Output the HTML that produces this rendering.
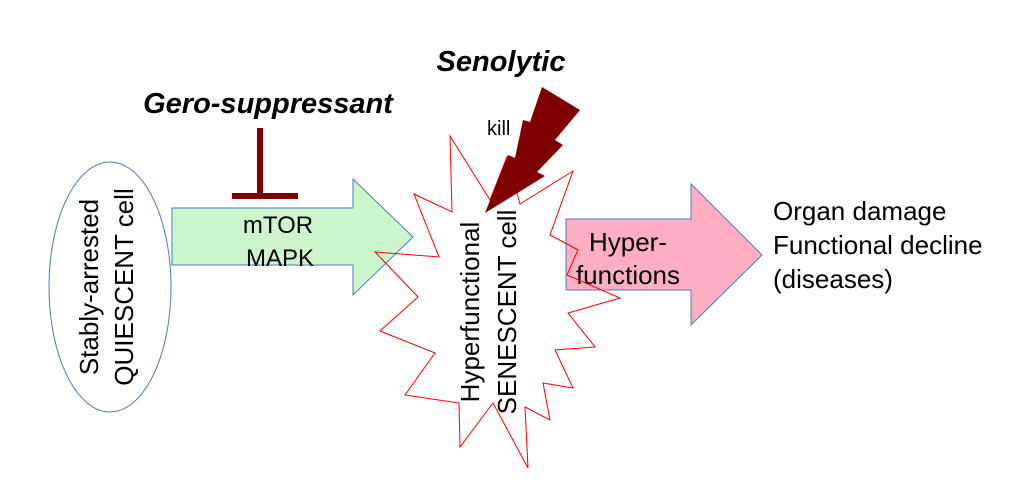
<!DOCTYPE html>
<html><head><style>body{margin:0;background:#fff}svg{display:block}</style></head><body>
<svg width="1020" height="488" xmlns="http://www.w3.org/2000/svg" font-family="Liberation Sans, sans-serif">
<ellipse cx="110" cy="287" rx="61" ry="125" fill="#fff" stroke="#4a7ebb" stroke-width="1"/>
<text transform="translate(98,287) rotate(-90)" text-anchor="middle" font-size="26">Stably-arrested</text>
<text transform="translate(133,287) rotate(-90)" text-anchor="middle" font-size="26">QUIESCENT cell</text>
<polygon points="172,208 353,208 353,179 413,237 353,295 353,265 172,265" fill="#ccf5cc" stroke="#4a7ebb"/>
<text x="278" y="233" text-anchor="middle" font-size="24">mTOR</text>
<text x="280" y="266" text-anchor="middle" font-size="24">MAPK</text>
<line x1="260" y1="128" x2="260" y2="196" stroke="#7f0000" stroke-width="6"/>
<line x1="232" y1="196" x2="298" y2="196" stroke="#7f0000" stroke-width="6"/>
<text x="268" y="113" text-anchor="middle" font-size="29" font-weight="bold" font-style="italic">Gero-suppressant</text>
<polygon points="566,219 691,219 691,184 762,255 691,325 691,290 566,290" fill="#ffaec4" stroke="#4a7ebb"/>
<text x="628" y="251" text-anchor="middle" font-size="26">Hyper-</text>
<text x="628" y="284" text-anchor="middle" font-size="26">functions</text>
<polygon points="414,194 452,212 450,136 490,200 507,157 520,204 573,171 550,235 578,250 567,275 620,298 568,313 595,347 555,350 573,388 543,383 550,420 525,407 528,468 493,403 460,447 459,403 405,395 435,353 380,331 418,297 375,252 439,257" fill="none" stroke="#ff0000" stroke-width="1"/>
<text transform="translate(479,312) rotate(-90)" text-anchor="middle" font-size="26">Hyperfunctional</text>
<text transform="translate(516,312) rotate(-90)" text-anchor="middle" font-size="26">SENESCENT cell</text>
<polygon points="485,213 508,155 515,158 523,120 530,122 542,87 580,110 555,140 563,145 537,172 545,176" fill="#7f0000"/>
<text x="487" y="135" font-size="20">kill</text>
<text x="501" y="71" text-anchor="middle" font-size="29" font-weight="bold" font-style="italic">Senolytic</text>
<text x="773" y="220" font-size="26">Organ damage</text>
<text x="773" y="254" font-size="26">Functional decline</text>
<text x="773" y="288" font-size="26">(diseases)</text>
</svg>
</body></html>
